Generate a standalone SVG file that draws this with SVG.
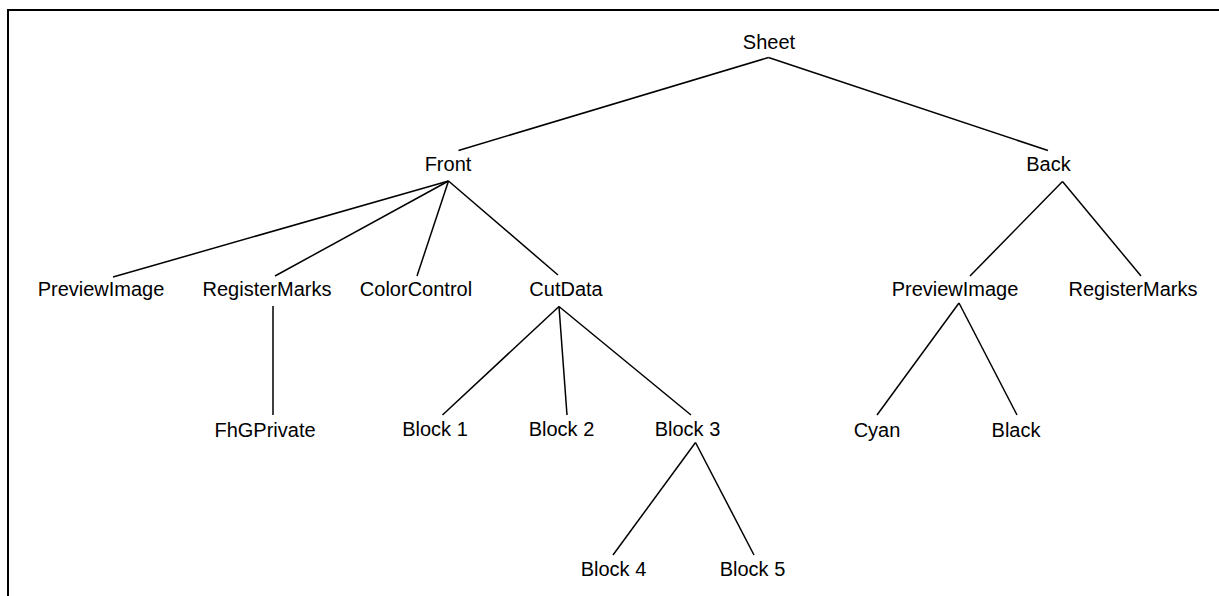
<svg xmlns="http://www.w3.org/2000/svg" width="1219" height="596" viewBox="0 0 1219 596">
  <style>
    .frame { fill: none; stroke: #000; stroke-width: 2; }
    .edge { fill: none; stroke: #000; stroke-width: 1.5; stroke-linecap: butt; }
    .label { font-family: "Liberation Sans", Arial, sans-serif; font-size: 20px; fill: #000; text-anchor: middle; }
  </style>
  <rect width="1219" height="596" fill="#fff"/>
  <path class="frame" d="M8,596 V10 H1219"/>

  <!-- tree edges -->
  <g id="connectors">
    <line class="edge" x1="768.5" y1="57.5" x2="458.5" y2="150.5"/>
    <line class="edge" x1="768.5" y1="57.5" x2="1048" y2="150.5"/>
    <line class="edge" x1="448.5" y1="181" x2="113" y2="277"/>
    <line class="edge" x1="448.5" y1="181" x2="275" y2="276"/>
    <line class="edge" x1="448.5" y1="181" x2="417" y2="276"/>
    <line class="edge" x1="448.5" y1="181" x2="558" y2="275"/>
    <line class="edge" x1="273" y1="306" x2="273" y2="415"/>
    <line class="edge" x1="559" y1="306.5" x2="442.5" y2="415"/>
    <line class="edge" x1="559" y1="306.5" x2="567" y2="415"/>
    <line class="edge" x1="559" y1="306.5" x2="691" y2="415"/>
    <line class="edge" x1="695.5" y1="442.5" x2="613" y2="555"/>
    <line class="edge" x1="695.5" y1="442.5" x2="754" y2="555"/>
    <line class="edge" x1="1062.5" y1="181.5" x2="970" y2="276"/>
    <line class="edge" x1="1062.5" y1="181.5" x2="1141" y2="276"/>
    <line class="edge" x1="959" y1="303" x2="877" y2="415"/>
    <line class="edge" x1="959" y1="303" x2="1017" y2="415"/>
  </g>

  <!-- tree nodes -->
  <g id="sheet"><text class="label" x="769" y="49">Sheet</text></g>
  <g id="front"><text class="label" x="448" y="171">Front</text></g>
  <g id="back"><text class="label" x="1048.5" y="171">Back</text></g>
  <g id="front-preview"><text class="label" x="101" y="296">PreviewImage</text></g>
  <g id="front-register"><text class="label" x="267" y="296">RegisterMarks</text></g>
  <g id="front-color"><text class="label" x="416" y="296">ColorControl</text></g>
  <g id="front-cutdata"><text class="label" x="566" y="296">CutData</text></g>
  <g id="fhg-private"><text class="label" x="265" y="437">FhGPrivate</text></g>
  <g id="block1"><text class="label" x="435" y="436">Block 1</text></g>
  <g id="block2"><text class="label" x="561.5" y="436">Block 2</text></g>
  <g id="block3"><text class="label" x="687.5" y="436">Block 3</text></g>
  <g id="block4"><text class="label" x="613.5" y="576">Block 4</text></g>
  <g id="block5"><text class="label" x="752.5" y="576">Block 5</text></g>
  <g id="back-preview"><text class="label" x="955" y="296">PreviewImage</text></g>
  <g id="back-register"><text class="label" x="1133" y="296">RegisterMarks</text></g>
  <g id="cyan"><text class="label" x="877" y="437">Cyan</text></g>
  <g id="black"><text class="label" x="1016" y="437">Black</text></g>
</svg>
